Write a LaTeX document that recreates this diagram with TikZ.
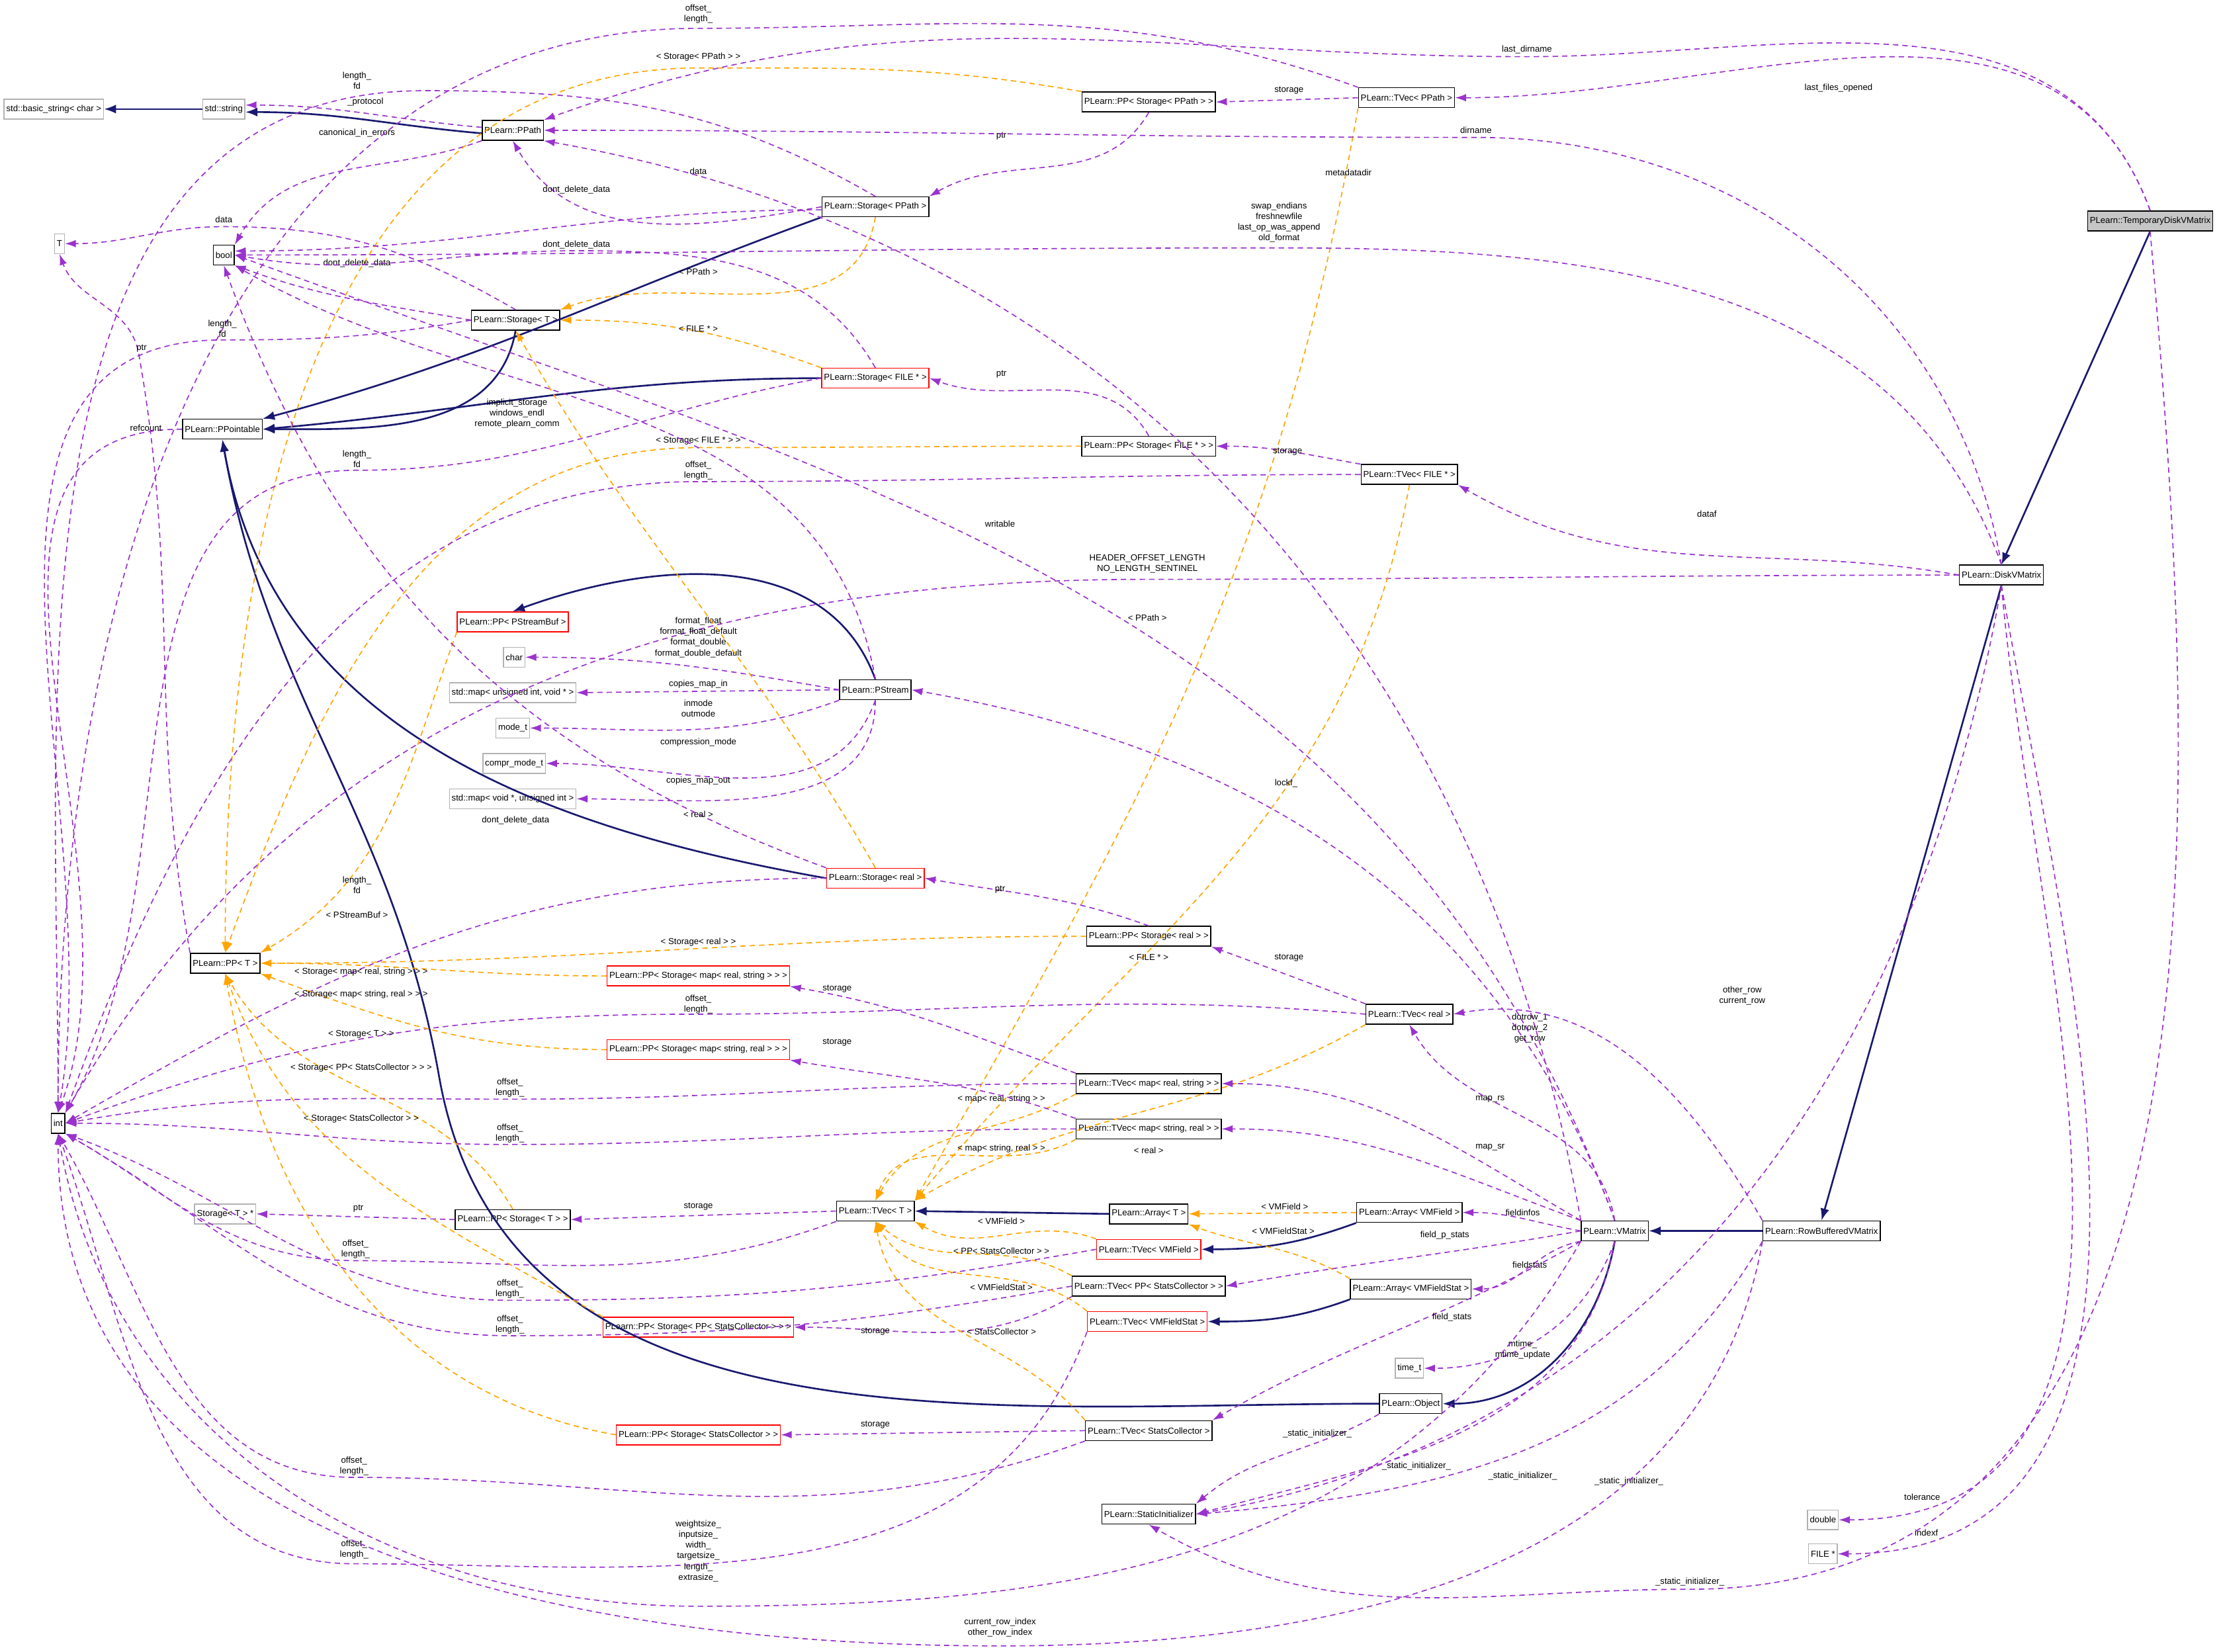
\documentclass[tikz,border=0pt]{standalone}
\usepackage{fontspec}
\setmainfont{Liberation Sans}
\usetikzlibrary{arrows.meta}
\definecolor{dpur}{HTML}{9A32CD}
\definecolor{dora}{HTML}{FFA500}
\definecolor{dnav}{HTML}{191970}
\newcommand\fsz{\fontsize{1.75}{2.15}\selectfont}
\begin{document}
\begin{tikzpicture}[x=0.01cm,y=-0.01cm,line width=0.2pt,
 box/.style={draw=black,font=\fsz,inner sep=0.45pt,minimum height=0.14cm,line width=0.2pt},
 rbox/.style={box,draw=red},
 gbox/.style={box,draw=gray!60},
 lbl/.style={font=\fsz,inner sep=0.1pt,align=center},
 dep/.style={draw=dpur,line width=0.22pt,dash pattern=on 1.1pt off 0.8pt,-{Latex[length=2.2pt,width=1.5pt]}},
 tmpl/.style={draw=dora,line width=0.22pt,dash pattern=on 1.1pt off 0.8pt,-{Latex[length=2.2pt,width=1.5pt]}},
 inh/.style={draw=dnav,line width=0.35pt,-{Latex[length=2.4pt,width=1.8pt]}}]
\useasboundingbox[fill=white] (0,0) rectangle (1568,1166);
% nodes
\node[gbox] (bstr) at (38,77) {std::basic\_string< char >};
\node[gbox] (str) at (158,77) {std::string};
\node[gbox] (T) at (42,172) {T};
\node[box] (bool) at (158,180) {bool};
\node[box] (ppt) at (157,303) {PLearn::PPointable};
\node[box] (int) at (41,793) {int};
\node[box] (pptt) at (159,680) {PLearn::PP< T >};
\node[gbox] (stp) at (159,857) {Storage< T > *};
\node[gbox] (char) at (363,464) {char};
\node[gbox] (map1) at (362,489) {std::map< unsigned int, void * >};
\node[gbox] (mode) at (362,514) {mode\_t};
\node[gbox] (compr) at (363,539) {compr\_mode\_t};
\node[gbox] (map2) at (362,564) {std::map< void *, unsigned int >};
\node[rbox] (ppsb) at (362,439) {PLearn::PP< PStreamBuf >};
\node[box] (ppath) at (362,92) {PLearn::PPath};
\node[box] (sppath) at (618,146) {PLearn::Storage< PPath >};
\node[box] (st) at (364,226) {PLearn::Storage< T >};
\node[rbox] (sfile) at (618,267) {PLearn::Storage< FILE * >};
\node[box] (pstream) at (618,487) {PLearn::PStream};
\node[rbox] (sreal) at (618,620) {PLearn::Storage< real >};
\node[box] (ppsp) at (811,72) {PLearn::PP< Storage< PPath > >};
\node[box] (tvpp) at (993,69) {PLearn::TVec< PPath >};
\node[box] (ppsf) at (811,315) {PLearn::PP< Storage< FILE * > >};
\node[box] (tvfile) at (995,335) {PLearn::TVec< FILE * >};
\node[box] (ppsr) at (811,661) {PLearn::PP< Storage< real > >};
\node[box] (tvreal) at (995,716) {PLearn::TVec< real >};
\node[rbox] (pprs) at (493,689) {PLearn::PP< Storage< map< real, string > > >};
\node[rbox] (ppsr2) at (493,741) {PLearn::PP< Storage< map< string, real > > >};
\node[box] (tvmrs) at (811,765) {PLearn::TVec< map< real, string > >};
\node[box] (tvmsr) at (811,797) {PLearn::TVec< map< string, real > >};
\node[box] (ppst) at (362,861) {PLearn::PP< Storage< T > >};
\node[box] (tvt) at (618,855) {PLearn::TVec< T >};
\node[box] (arrt) at (811,857) {PLearn::Array< T >};
\node[box] (arrvf) at (995,856) {PLearn::Array< VMField >};
\node[rbox] (tvvf) at (811,882) {PLearn::TVec< VMField >};
\node[box] (tvppsc) at (811,908) {PLearn::TVec< PP< StatsCollector > >};
\node[box] (arrvfs) at (996,910) {PLearn::Array< VMFieldStat >};
\node[rbox] (tvvfs) at (810,933) {PLearn::TVec< VMFieldStat >};
\node[rbox] (ppsppsc) at (493,937) {PLearn::PP< Storage< PP< StatsCollector > > >};
\node[gbox] (timet) at (995,966) {time\_t};
\node[box] (object) at (996,991) {PLearn::Object};
\node[rbox] (ppssc) at (493,1013) {PLearn::PP< Storage< StatsCollector > >};
\node[box] (tvsc) at (811,1010) {PLearn::TVec< StatsCollector >};
\node[box] (sinit) at (811,1069) {PLearn::StaticInitializer};
\node[gbox] (double) at (1287,1073) {double};
\node[gbox] (file) at (1287,1097) {FILE *};
\node[box] (vmatrix) at (1140,869) {PLearn::VMatrix};
\node[box] (rbvm) at (1286,869) {PLearn::RowBufferedVMatrix};
\node[box] (dvm) at (1413,406) {PLearn::DiskVMatrix};
\node[box,fill=gray!45] (tdvm) at (1518,156) {PLearn::TemporaryDiskVMatrix};
% inheritance
\draw[inh] (str) -- (bstr);
\draw[inh] ([yshift=-0.6pt]ppath.west) to[out=175,in=0] ([yshift=-0.6pt]str.east);
\draw[inh] (sppath.south west) to[out=200,in=15] (ppt.north east);
\draw[inh] (st.south) to[out=-100,in=0] (ppt.east);
\draw[inh] (sfile.west) to[out=180,in=5] (ppt.east);
\draw[inh] (sreal.west) to[out=170,in=-80] (ppt.south);
\draw[inh] (object.west) to[out=180,in=-80] (310,760) to[out=100,in=-80] (ppt.south);
\draw[inh] (pstream.north) to[out=110,in=20] (ppsb.north);
\draw[inh] (arrt.west) -- (tvt.east);
\draw[inh] (arrvf.south west) to[out=-160,in=0] (tvvf.east);
\draw[inh] (arrvfs.south west) to[out=-160,in=0] (tvvfs.east);
\draw[inh] (vmatrix.south) to[out=-100,in=0] (object.east);
\draw[inh] (rbvm.west) -- (vmatrix.east);
\draw[inh] (dvm.south) -- (rbvm.north);
\draw[inh] (tdvm.south) -- (dvm.north);
% PPath / string / bool
\draw[dep] ([yshift=0.6pt]ppath.west) to[out=175,in=0] ([yshift=0.8pt]str.east);
\node[lbl] at (258,72) {\_protocol};
\draw[dep] (ppath.south west) to[out=200,in=60] (bool.north east);
\node[lbl] at (252,94) {canonical\_in\_errors};
\draw[dep] (sppath.west) to[out=190,in=-60] (ppath.south);
\node[lbl] at (493,121) {data};
\draw[dep] ([yshift=-0.6pt]sppath.west) to[out=180,in=0] ([yshift=0.8pt]bool.east);
\node[lbl] at (407,134) {dont\_delete\_data};
\draw[dep] (sppath.north) to[out=150,in=0] (300,64) to[out=180,in=90] (int.north);
\node[lbl] at (252,57) {length\_\\fd};
\draw[dep] (ppsp.south) to[out=-120,in=30] (sppath.north east);
\node[lbl] at (707,96) {ptr};
\draw[dep] (tvpp.west) -- (ppsp.east);
\node[lbl] at (910,64) {storage};
\draw[dep] (tvpp.north west) to[out=160,in=0] (493,20) to[out=180,in=90] (int.north);
\node[lbl] at (493,10) {offset\_\\length\_};
\draw[tmpl] (tvpp.south west) to[out=-100,in=60] (tvt.north east);
\node[lbl] at (810,436) {< PPath >};
\draw[tmpl] (sppath.south) to[out=-100,in=20] (st.north east);
\node[lbl] at (493,192) {< PPath >};
\draw[tmpl] (ppsp.north west) to[out=170,in=0] (493,48) to[out=180,in=90] (pptt.north);
\node[lbl] at (493,40) {< Storage< PPath > >};
% TemporaryDiskVMatrix
\draw[dep] (tdvm.north) to[out=110,in=0] (tvpp.east);
\node[lbl] at (1298,62) {last\_files\_opened};
\draw[dep] (tdvm.north) to[out=110,in=0] (1078,40) to[out=180,in=20] (ppath.north east);
\node[lbl] at (1078,35) {last\_dirname};
\draw[dep] (tdvm.south) to[out=-85,in=0] (1193,1122) to[out=180,in=-30] (sinit.south);
\node[lbl] at (1193,1117) {\_static\_initializer\_};
% DiskVMatrix
\draw[dep] (dvm.north) to[out=100,in=0] (1042,97) to[out=180,in=0] (ppath.east);
\node[lbl] at (1042,92) {dirname};
\draw[dep] (dvm.north) to[out=110,in=0] (903,175) to[out=180,in=0] (bool.east);
\node[lbl] at (903,157) {swap\_endians\\freshnewfile\\last\_op\_was\_append\\old\_format};
\draw[dep] (dvm.west) to[out=170,in=-30] (tvfile.south east);
\node[lbl] at (1205,363) {dataf};
\draw[dep] (dvm.west) to[out=180,in=0] (810,409) to[out=180,in=60] (int.north east);
\node[lbl] at (810,398) {HEADER\_OFFSET\_LENGTH\\NO\_LENGTH\_SENTINEL};
\draw[dep] (dvm.south) to[out=-85,in=0] (double.east);
\node[lbl] at (1357,1057) {tolerance};
\draw[dep] (dvm.south) to[out=-80,in=0] (file.east);
\node[lbl] at (1360,1082) {indexf};
\draw[dep] (dvm.south) to[out=-100,in=10] (sinit.east);
\node[lbl] at (1150,1046) {\_static\_initializer\_};
% PPointable, Storage<T>
\draw[dep] (ppt.west) to[out=180,in=70] (int.north);
\node[lbl] at (103,302) {refcount};
\draw[dep] (st.north) to[out=150,in=0] (158,160) to[out=180,in=0] (T.east);
\node[lbl] at (158,155) {data};
\draw[dep] (st.west) to[out=170,in=-20] (bool.south east);
\node[lbl] at (252,186) {dont\_delete\_data};
\draw[dep] (st.west) to[out=190,in=0] (157,240) to[out=180,in=80] (int.north);
\node[lbl] at (157,232) {length\_\\fd};
\draw[dep] (pptt.north west) to[out=100,in=-80] (98,250) to[out=100,in=-70] (T.south);
\node[lbl] at (100,246) {ptr};
% Storage<FILE*>
\draw[dep] (sfile.north) to[out=120,in=0] (407,177) to[out=180,in=-10] (bool.east);
\node[lbl] at (407,173) {dont\_delete\_data};
\draw[dep] (sfile.west) to[out=190,in=0] (252,332) to[out=180,in=60] (int.north east);
\node[lbl] at (252,324) {length\_\\fd};
\draw[tmpl] (sfile.north west) to[out=160,in=0] (st.east);
\node[lbl] at (493,232) {< FILE * >};
\draw[dep] (ppsf.north) to[out=120,in=-20] (sfile.east);
\node[lbl] at (707,264) {ptr};
\draw[tmpl] (ppsf.west) to[out=180,in=0] (493,316) to[out=180,in=70] (pptt.north);
\node[lbl] at (493,311) {< Storage< FILE * > >};
\draw[dep] (tvfile.north west) to[out=170,in=0] (ppsf.east);
\node[lbl] at (909,319) {storage};
\draw[dep] (tvfile.west) to[out=180,in=0] (493,340) to[out=180,in=70] (int.north east);
\node[lbl] at (493,332) {offset\_\\length\_};
\draw[tmpl] (tvfile.south) to[out=-100,in=50] (tvt.north east);
\node[lbl] at (811,676) {< FILE * >};
% PStream
\draw[dep] (pstream.west) to[out=170,in=0] (char.east);
\node[lbl] at (493,450) {format\_float\\format\_float\_default\\format\_double\\format\_double\_default};
\draw[dep] (pstream.west) -- (map1.east);
\node[lbl] at (493,483) {copies\_map\_in};
\draw[dep] (pstream.south west) to[out=200,in=0] (mode.east);
\node[lbl] at (493,500) {inmode\\outmode};
\draw[dep] (pstream.south) to[out=-110,in=0] (compr.east);
\node[lbl] at (493,524) {compression\_mode};
\draw[dep] (pstream.south) to[out=-90,in=0] (map2.east);
\node[lbl] at (493,551) {copies\_map\_out};
\draw[dep] (pstream.north) to[out=100,in=-30] (bool.south east);
\node[lbl] at (365,292) {implicit\_storage\\windows\_endl\\remote\_plearn\_comm};
\draw[tmpl] (ppsb.south west) to[out=-110,in=30] (pptt.north east);
\node[lbl] at (252,646) {< PStreamBuf >};
% Storage<real>
\draw[dep] (sreal.north west) to[out=160,in=-70] (bool.south);
\node[lbl] at (364,579) {dont\_delete\_data};
\draw[dep] (sreal.west) to[out=180,in=30] (int.east);
\node[lbl] at (252,625) {length\_\\fd};
\draw[tmpl] (sreal.north) to[out=120,in=-60] (st.south);
\node[lbl] at (493,575) {< real >};
\draw[dep] (ppsr.north) to[out=160,in=-10] (sreal.east);
\node[lbl] at (706,628) {ptr};
\draw[tmpl] (ppsr.west) to[out=180,in=0] (pptt.east);
\node[lbl] at (493,665) {< Storage< real > >};
\draw[dep] (tvreal.north west) to[out=160,in=-20] (ppsr.south east);
\node[lbl] at (910,676) {storage};
\draw[dep] (tvreal.west) to[out=175,in=0] (493,716) to[out=180,in=20] (int.east);
\node[lbl] at (493,709) {offset\_\\length\_};
\draw[tmpl] (tvreal.south west) to[out=-150,in=30] (tvt.north east);
\node[lbl] at (811,812) {< real >};
% maps
\draw[tmpl] (pprs.west) to[out=180,in=0] (pptt.east);
\node[lbl] at (255,686) {< Storage< map< real, string > > >};
\draw[tmpl] (ppsr2.west) to[out=180,in=-20] (pptt.south east);
\node[lbl] at (255,702) {< Storage< map< string, real > > >};
\draw[dep] (tvmrs.north west) to[out=160,in=-10] (pprs.south east);
\node[lbl] at (591,698) {storage};
\draw[dep] (tvmrs.west) to[out=180,in=0] (360,776) to[out=180,in=10] (int.east);
\node[lbl] at (360,768) {offset\_\\length\_};
\draw[tmpl] (tvmrs.south west) to[out=-150,in=60] (tvt.north);
\node[lbl] at (707,776) {< map< real, string > >};
\draw[dep] (tvmsr.north west) to[out=160,in=-10] (ppsr2.south east);
\node[lbl] at (591,736) {storage};
\draw[dep] (tvmsr.west) to[out=180,in=0] (360,808) to[out=180,in=0] (int.east);
\node[lbl] at (360,800) {offset\_\\length\_};
\draw[tmpl] (tvmsr.south west) to[out=-150,in=70] (tvt.north);
\node[lbl] at (707,811) {< map< string, real > >};
% TVec<T>
\draw[dep] (ppst.west) -- (stp.east);
\node[lbl] at (253,853) {ptr};
\draw[tmpl] (ppst.north) to[out=120,in=-60] (pptt.south);
\node[lbl] at (255,730) {< Storage< T > >};
\draw[dep] (tvt.west) -- (ppst.east);
\node[lbl] at (493,852) {storage};
\draw[dep] (tvt.south west) to[out=-160,in=0] (251,890) to[out=180,in=-30] (int.south east);
\node[lbl] at (251,882) {offset\_\\length\_};
\draw[tmpl] (arrvf.west) -- (arrt.east);
\node[lbl] at (907,852) {< VMField >};
\draw[tmpl] (tvvf.north west) to[out=160,in=-30] (tvt.south east);
\node[lbl] at (707,862) {< VMField >};
\draw[dep] (tvvf.west) to[out=190,in=0] (360,918) to[out=180,in=-20] (int.south east);
\node[lbl] at (360,910) {offset\_\\length\_};
\draw[dep] (tvppsc.south west) to[out=-150,in=0] (ppsppsc.east);
\node[lbl] at (618,940) {storage};
\draw[dep] (tvppsc.west) to[out=190,in=0] (360,943) to[out=180,in=-30] (int.south east);
\node[lbl] at (360,935) {offset\_\\length\_};
\draw[tmpl] (tvppsc.north west) to[out=150,in=-40] (tvt.south);
\node[lbl] at (707,883) {< PP< StatsCollector > >};
\draw[tmpl] (arrvfs.north west) to[out=150,in=-20] (arrt.south east);
\node[lbl] at (906,869) {< VMFieldStat >};
\draw[tmpl] (tvvfs.north west) to[out=140,in=-60] (tvt.south);
\node[lbl] at (707,909) {< VMFieldStat >};
\draw[dep] (tvvfs.south west) to[out=-110,in=0] (250,1104) to[out=180,in=-70] (int.south);
\node[lbl] at (250,1094) {offset\_\\length\_};
\draw[tmpl] (ppsppsc.north west) to[out=150,in=-70] (pptt.south);
\node[lbl] at (255,754) {< Storage< PP< StatsCollector > > >};
\draw[tmpl] (ppssc.west) to[out=170,in=-80] (pptt.south);
\node[lbl] at (255,790) {< Storage< StatsCollector > >};
\draw[dep] (tvsc.west) -- (ppssc.east);
\node[lbl] at (618,1006) {storage};
\draw[dep] (tvsc.south west) to[out=-160,in=0] (250,1043) to[out=180,in=-60] (int.south);
\node[lbl] at (250,1035) {offset\_\\length\_};
\draw[tmpl] (tvsc.north west) to[out=130,in=-80] (tvt.south);
\node[lbl] at (707,940) {< StatsCollector >};
\draw[dep] (object.south west) to[out=-150,in=40] (sinit.north east);
\node[lbl] at (930,1012) {\_static\_initializer\_};
% VMatrix
\draw[dep] (vmatrix.north west) to[out=100,in=-10] (ppath.south east);
\node[lbl] at (952,122) {metadatadir};
\draw[dep] (vmatrix.north) to[out=110,in=-20] (bool.east);
\node[lbl] at (706,370) {writable};
\draw[dep] (vmatrix.north) to[out=110,in=-10] (pstream.east);
\node[lbl] at (908,553) {lockf\_};
\draw[dep] (vmatrix.north) to[out=100,in=-60] (tvreal.south);
\node[lbl] at (1080,726) {dotrow\_1\\dotrow\_2\\get\_row};
\draw[dep] (vmatrix.north west) to[out=150,in=0] (tvmrs.east);
\node[lbl] at (1052,776) {map\_rs};
\draw[dep] (vmatrix.north west) to[out=160,in=0] (tvmsr.east);
\node[lbl] at (1052,810) {map\_sr};
\draw[dep] (vmatrix.west) to[out=170,in=0] (arrvf.east);
\node[lbl] at (1075,856) {fieldinfos};
\draw[dep] (vmatrix.west) to[out=190,in=10] (tvppsc.east);
\node[lbl] at (1020,872) {field\_p\_stats};
\draw[dep] (vmatrix.south west) to[out=190,in=0] (arrvfs.east);
\node[lbl] at (1080,893) {fieldstats};
\draw[dep] (vmatrix.south west) to[out=-150,in=30] (tvsc.north east);
\node[lbl] at (1025,930) {field\_stats};
\draw[dep] (vmatrix.south) to[out=-110,in=0] (timet.east);
\node[lbl] at (1075,953) {mtime\_\\mtime\_update};
\draw[dep] (vmatrix.south) to[out=-100,in=15] (sinit.east);
\node[lbl] at (1000,1035) {\_static\_initializer\_};
\draw[dep] (vmatrix.south west) to[out=-120,in=0] (493,1134) to[out=180,in=-80] (int.south);
\node[lbl] at (493,1095) {weightsize\_\\inputsize\_\\width\_\\targetsize\_\\length\_\\extrasize\_};
% RowBufferedVMatrix
\draw[dep] (rbvm.north west) to[out=120,in=10] (tvreal.east);
\node[lbl] at (1230,703) {other\_row\\current\_row};
\draw[dep] (rbvm.south west) to[out=-100,in=0] (706,1162) to[out=180,in=-90] (int.south);
\node[lbl] at (706,1149) {current\_row\_index\\other\_row\_index};
\draw[dep] (rbvm.south west) to[out=-120,in=5] (sinit.east);
\node[lbl] at (1075,1042) {\_static\_initializer\_};
\end{tikzpicture}
\end{document}
